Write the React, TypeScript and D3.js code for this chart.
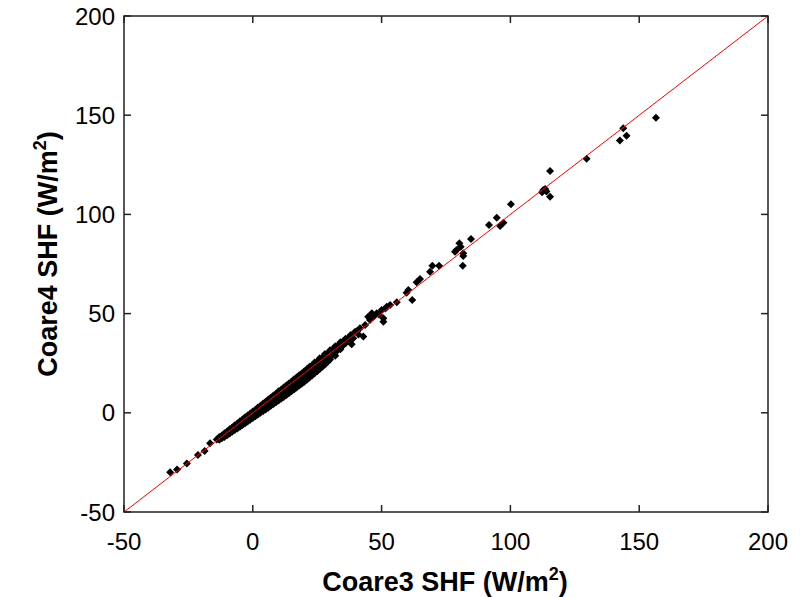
import React from "react";
import * as d3 from "d3";

const xTicks = [-50, 0, 50, 100, 150, 200];
const yTicks = [-50, 0, 50, 100, 150, 200];
const xLabel = "Coare3 SHF (W/m";
const yLabel = "Coare4 SHF (W/m";

// Coare3 SHF values (x) and matching Coare4 SHF values (y)
const coare3: number[] = [
  -32.1, -29.4, -25.6, -21.3, -18.7, -16.6,
  -14, -13, -13, -12, -12, -11, -11, -11, -10, -10, -10, -9, -9, -9, -8, -8, -8,
  -7, -7, -7, -6, -6, -6, -5, -5, -5, -4, -4, -4, -3, -3, -3, -2, -2, -2, -1, -1, -1,
  0, 0, 0, 1, 1, 1, 2, 2, 2, 3, 3, 3, 4, 4, 4, 5, 5, 5, 6, 6, 6, 7, 7, 7, 8, 8, 8,
  9, 9, 9, 10, 10, 10, 11, 11, 11, 12, 12, 12, 13, 13, 13, 14, 14, 14, 15, 15, 15,
  16, 16, 16, 17, 17, 17, 18, 18, 18, 19, 19, 19, 20, 20, 20, 21, 21, 21, 22, 22, 22,
  23, 23, 23, 24, 24, 24, 25, 25, 25, 26, 26, 26, 27, 27, 27, 28, 28, 28, 29, 29, 29,
  30, 30, 30, 31, 31, 32, 32, 32, 33, 33, 34, 34, 35, 35, 36, 36, 37, 38, 38,
  35.8, 38.4, 37.7, 39.7, 42.9, 41.6, 43.6, 44.8, 46.2, 48.1, 50, 50.7, 50.7, 52, 53.3,
  55.9, 61.9, 59.7, 60.4, 63.6, 64.9, 68.8, 69.7, 72.3, 78.5, 79.1, 80.2, 80.7, 81.7,
  81.7, 81.5, 84.7, 91.7, 96, 97.3, 94.7, 100.2, 112.3, 112.8, 113.5, 114, 115.4, 115.4,
  129.6, 142.5, 143.8, 145.1, 156.5,
  40.5, 41.0, 45.5, 47.0, 49.0, 51.5, 34.0, 31.5, 29.0, 39.0,
];
const coare4: number[] = [
  -30, -28.6, -25.5, -21.3, -19.3, -15.4,
  -13.5, -12.2, -13.6, -11.4, -12.8, -10.3, -11.6, -12.2, -9.4, -10.5, -11.3, -8.3, -9.6, -10.4, -7.4, -8.5, -9.6,
  -6.3, -7.6, -8.7, -5.4, -6.6, -7.9, -4.3, -5.7, -7.0, -3.4, -4.8, -6.2, -2.3, -3.7, -5.3, -1.4, -2.8, -4.4, -0.3, -1.9, -3.5,
  0.7, -0.8, -2.6, 1.6, 0.1, -1.8, 2.7, 1.0, -0.9, 3.6, 2.0, 0.0, 4.7, 2.9, 0.9, 5.6, 3.9, 1.7, 6.7, 4.8, 2.6, 7.6, 5.8, 3.5, 8.7, 6.7, 4.4,
  9.6, 7.7, 5.3, 10.8, 8.6, 6.2, 11.6, 9.6, 7.1, 12.8, 10.5, 8.0, 13.7, 11.5, 9.0, 14.8, 12.4, 9.9, 15.7, 13.4, 10.9,
  16.9, 14.3, 11.8, 17.8, 15.3, 12.8, 18.9, 16.2, 13.7, 19.8, 17.2, 14.7, 21.0, 18.1, 15.7, 21.9, 19.1, 16.7, 23.2, 20.0, 17.8,
  23.9, 21.0, 18.8, 25.3, 22.0, 19.9, 25.8, 23.0, 21.0, 27.5, 24.0, 22.1, 27.8, 25.0, 23.2, 29.6, 26.1, 24.4, 29.8, 27.2, 25.6,
  31.5, 28.3, 26.9, 31.9, 29.4, 33.6, 30.5, 28.8, 33.8, 31.6, 35.5, 32.8, 35.9, 33.9, 37.3, 35.0, 37.6, 39.2, 36.7,
  36.7, 34.5, 38.4, 40.9, 38.4, 42.6, 44.3, 48.4, 50.2, 50.2, 51.8, 47.6, 45.9, 53.5, 54.3,
  55.7, 56.9, 60.5, 61.9, 65.8, 67.4, 71.1, 74.1, 74.1, 81.2, 82, 85.4, 83.7, 80.4,
  79, 74.1, 87.6, 94.7, 94.2, 95.8, 98.3, 105.1, 111.2, 112.3, 112.8, 111.6, 108.9, 121.9,
  128.1, 137.3, 143.4, 139.7, 148.7,
  41.2, 39.5, 46.8, 48.5, 49.6, 52.6, 32.0, 29.2, 26.8, 37.6,
];

const W = 807;
const H = 597;
const left = 124;
const right = 768;
const top = 16;
const bottom = 512;
const font = "'Liberation Sans', Arial, Helvetica, sans-serif";

export default function App() {
  const x = d3.scaleLinear().domain([-50, 200]).range([left, right]);
  const y = d3.scaleLinear().domain([-50, 200]).range([bottom, top]);
  const tick = 7;
  const r = 4;
  const diamond = `M0,${-r}L${r},0L0,${r}L${-r},0Z`;
  const n = Math.min(coare3.length, coare4.length);
  const pts = d3.range(n).map((i) => [coare3[i], coare4[i]]);
  const line = d3.line<number>().x((v) => x(v)).y((v) => y(v));

  return (
    <svg
      width={W}
      height={H}
      style={{ position: "absolute", left: 0, top: 0, background: "#fff" }}
      fontFamily={font}
    >
      <rect x={0} y={0} width={W} height={H} fill="#fff" />
      {pts.map((p, i) => (
        <path key={i} d={diamond} transform={`translate(${x(p[0])},${y(p[1])})`} fill="#000" />
      ))}
      <path d={line([-50, 200]) || ""} stroke="#ff0000" strokeWidth={1} fill="none" />
      <rect x={left} y={top} width={right - left} height={bottom - top} fill="none" stroke="#222" strokeWidth={1.5} />
      {xTicks.map((t) => (
        <g key={"x" + t}>
          <line x1={x(t)} x2={x(t)} y1={bottom} y2={bottom - tick} stroke="#222" strokeWidth={1.5} />
          <line x1={x(t)} x2={x(t)} y1={top} y2={top + tick} stroke="#222" strokeWidth={1.5} />
          <text x={x(t)} y={550} textAnchor="middle" fontSize={24} fill="#000">
            {t}
          </text>
        </g>
      ))}
      {yTicks.map((t) => (
        <g key={"y" + t}>
          <line x1={left} x2={left + tick} y1={y(t)} y2={y(t)} stroke="#222" strokeWidth={1.5} />
          <line x1={right} x2={right - tick} y1={y(t)} y2={y(t)} stroke="#222" strokeWidth={1.5} />
          <text x={115} y={y(t) + 8.5} textAnchor="end" fontSize={24} fill="#000">
            {t}
          </text>
        </g>
      ))}
      <text x={445} y={591} textAnchor="middle" fontSize={27} fontWeight="bold" fill="#000">
        {xLabel}
        <tspan dy={-11} fontSize={18}>2</tspan>
        <tspan dy={11}>)</tspan>
      </text>
      <text
        transform={`translate(57,254) rotate(-90)`}
        textAnchor="middle"
        fontSize={27}
        fontWeight="bold"
        fill="#000"
      >
        {yLabel}
        <tspan dy={-11} fontSize={18}>2</tspan>
        <tspan dy={11}>)</tspan>
      </text>
    </svg>
  );
}
